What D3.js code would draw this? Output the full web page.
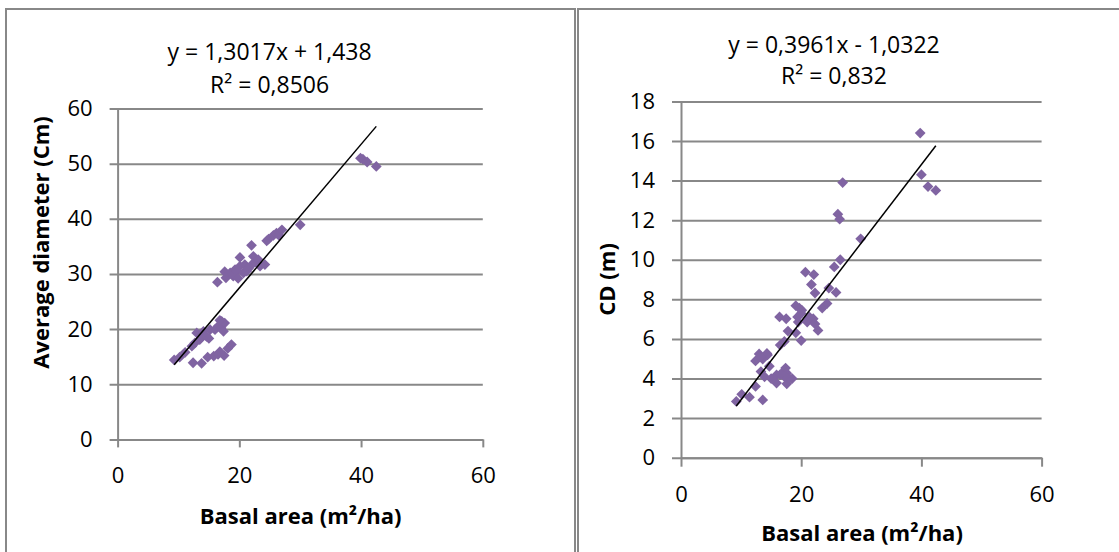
<!DOCTYPE html>
<html>
<head>
<meta charset="utf-8">
<script src="https://cdn.jsdelivr.net/npm/d3@7"></script>
<style>
  body { margin: 0; background: #fff; }
  svg { display: block; font-family: "Open Sans", sans-serif; }
</style>
</head>
<body>
<div id="chart"></div>
<script>
// basal area (m2/ha) vs average diameter (cm)
const diamX = [9.3, 10.2, 11.1, 12.2, 12.7, 13.0, 13.5, 13.8, 14.1, 14.6, 15.0, 15.2, 16.0, 16.5, 17.0, 17.1, 17.4, 17.6, 16.8,
               12.4, 13.8, 14.8, 15.8, 16.5, 16.8, 17.5, 18.1, 18.7,
               16.4, 17.6, 17.8, 18.5, 19.0, 19.3, 19.6, 19.8, 20.1, 20.1, 20.7, 20.9, 21.2, 21.5, 21.8, 22.0, 22.3, 22.6,
               23.1, 23.4, 24.2, 24.5, 24.8, 25.6, 26.1, 26.5, 27.0, 30.0,
               39.9, 40.3, 41.0, 42.5];
const diamY = [14.4, 14.9, 15.8, 16.9, 17.5, 19.3, 18.1, 18.5, 19.6, 18.7, 18.3, 19.9, 19.9, 20.5, 20.2, 21.4, 19.6, 21.1, 21.6,
               13.9, 13.8, 14.9, 15.1, 15.4, 15.9, 15.2, 16.5, 17.2,
               28.5, 30.4, 29.3, 30.2, 29.6, 30.8, 30.5, 29.2, 33.0, 31.4, 30.2, 31.7, 30.5, 31.0, 31.4, 35.2, 33.2, 32.3,
               32.6, 31.4, 31.7, 36.0, 36.3, 37.0, 37.4, 37.0, 38.0, 38.9,
               51.0, 50.8, 50.3, 49.5];

// basal area (m2/ha) vs CD (m)
const cdX = [9.2, 10.1, 11.4, 12.4, 13.6, 12.4, 13.0, 13.6, 14.4, 14.7, 13.3, 13.9, 15.0, 15.9, 16.8, 17.4, 17.6, 15.9, 17.6,
             18.5, 18.0, 17.2, 16.5, 14.3, 13.2,
             16.5, 17.2, 20.0, 17.8, 19.1, 16.4, 17.5, 19.4, 20.0, 19.5, 21.0, 22.0, 22.3, 22.8, 19.1, 19.7, 20.1, 20.9, 21.4,
             23.5, 24.3, 24.6, 25.8, 22.3, 21.7, 22.1, 20.7, 25.5, 26.5, 29.9, 26.1, 26.4, 26.9,
             39.8, 40.0, 41.1, 42.4];
const cdY = [2.84, 3.2, 3.06, 3.6, 2.92, 4.89, 5.24, 4.98, 5.19, 4.62, 4.35, 4.09, 4.0, 4.18, 4.27, 4.53, 4.27, 3.77, 3.73,
             4.0, 4.0, 4.1, 4.2, 5.27, 5.1,
             5.69, 5.87, 5.92, 6.40, 6.31, 7.11, 7.02, 7.11, 7.29, 6.85, 6.85, 7.02, 6.76, 6.43, 7.68, 7.55, 7.45, 6.95, 7.1,
             7.56, 7.79, 8.57, 8.35, 8.32, 8.75, 9.25, 9.37, 9.64, 10.0, 11.06, 12.3, 12.05, 13.9,
             16.4, 14.3, 13.7, 13.5];

const xTicks = [0, 20, 40, 60];
const diamTicks = [0, 10, 20, 30, 40, 50, 60];
const cdTicks = [0, 2, 4, 6, 8, 10, 12, 14, 16, 18];

const diamFit = {slope: 1.3017, icpt: 1.438};
const cdFit = {slope: 0.3961, icpt: -1.0322};

const W = 1119, H = 552;
const grey = "#888";
const purple = "#8064a2";

const svg = d3.select("#chart").append("svg")
              .attr("width", W)
              .attr("height", H);

// panel frames
svg.append("rect")
   .attr("x", 6).attr("y", 9)
   .attr("width", 569).attr("height", H)
   .attr("fill", "none").attr("stroke", grey).attr("stroke-width", 2);
svg.append("rect")
   .attr("x", 578).attr("y", 9)
   .attr("width", W).attr("height", H)
   .attr("fill", "none").attr("stroke", grey).attr("stroke-width", 2);

function panel(p) {
  const g = svg.append("g")
               .attr("transform", `translate(${p.left}, ${p.top})`);

  const x = d3.scaleLinear().domain([0, 60]).range([0, p.w]);
  const y = d3.scaleLinear().domain(p.yDomain).range([p.h, 0]);

  // y axis with gridlines
  const yAxis = g.append("g")
                 .call(d3.axisLeft(y)
                         .tickValues(p.yTicks)
                         .tickSizeInner(-p.w)
                         .tickSizeOuter(0)
                         .tickPadding(p.yPad));
  yAxis.selectAll(".tick line")
       .attr("x1", -p.tick)
       .attr("x2", p.w)
       .attr("stroke", grey)
       .attr("stroke-width", 2);
  yAxis.select(".domain").attr("stroke", grey).attr("stroke-width", 2);

  const xAxis = g.append("g")
                 .attr("transform", `translate(0, ${p.h})`)
                 .call(d3.axisBottom(x)
                         .tickValues(xTicks)
                         .tickSizeInner(p.tick)
                         .tickSizeOuter(0)
                         .tickPadding(p.xPad));
  xAxis.selectAll(".tick line").attr("stroke", grey).attr("stroke-width", 2);
  xAxis.select(".domain").attr("stroke", grey).attr("stroke-width", 2);

  g.selectAll(".tick text")
   .attr("fill", "#000")
   .style("font-size", "22px")
   .style("font-family", "'Open Sans', sans-serif");

  // points
  const pts = p.xs.map((v, i) => [v, p.ys[i]]);
  g.append("g")
   .selectAll("path")
   .data(pts)
   .join("path")
   .attr("d", d3.symbol(d3.symbolSquare, 58))
   .attr("transform", d => `translate(${x(d[0])}, ${y(d[1])}) rotate(45)`)
   .attr("fill", purple);

  // trend line over the data range
  const lo = d3.min(p.xs), hi = d3.max(p.xs);
  g.append("line")
   .attr("x1", x(lo)).attr("y1", y(p.fit.slope * lo + p.fit.icpt))
   .attr("x2", x(hi)).attr("y2", y(p.fit.slope * hi + p.fit.icpt))
   .attr("stroke", "#000")
   .attr("stroke-width", 1.5);

  // equation
  g.append("text")
   .attr("x", p.eqX).attr("y", p.eqY)
   .attr("text-anchor", "middle")
   .style("font-size", "23px")
   .text(p.eq1);
  g.append("text")
   .attr("x", p.eqX).attr("y", p.eqY + p.eqGap)
   .attr("text-anchor", "middle")
   .style("font-size", "23px")
   .text(p.eq2);

  // axis titles
  g.append("text")
   .attr("x", p.xtX).attr("y", p.xtY)
   .attr("text-anchor", "middle")
   .style("font-size", "22px")
   .style("font-weight", "bold")
   .text("Basal area (m²/ha)");
  g.append("text")
   .attr("transform", `translate(${p.ytX}, ${p.ytY}) rotate(-90)`)
   .attr("text-anchor", "middle")
   .style("font-size", "22px")
   .style("font-weight", "bold")
   .text(p.yTitle);
}

panel({
  left: 117.6, top: 108.5, w: 365.2, h: 330.9,
  xs: diamX, ys: diamY, fit: diamFit,
  yDomain: [0, 60], yTicks: diamTicks,
  tick: 8, yPad: 25, xPad: 20,
  eq1: "y = 1,3017x + 1,438", eq2: "R² = 0,8506",
  eqX: 152, eqY: -49, eqGap: 33,
  xtX: 183, xtY: 415,
  ytX: -69, ytY: 134,
  yTitle: "Average diameter (Cm)"
});

panel({
  left: 681, top: 101.4, w: 360.6, h: 356.3,
  xs: cdX, ys: cdY, fit: cdFit,
  yDomain: [0, 18], yTicks: cdTicks,
  tick: 9, yPad: 26, xPad: 20,
  eq1: "y = 0,3961x - 1,0322", eq2: "R² = 0,832",
  eqX: 153, eqY: -48, eqGap: 31,
  xtX: 181, xtY: 440,
  ytX: -66, ytY: 178,
  yTitle: "CD (m)"
});
</script>
</body>
</html>
